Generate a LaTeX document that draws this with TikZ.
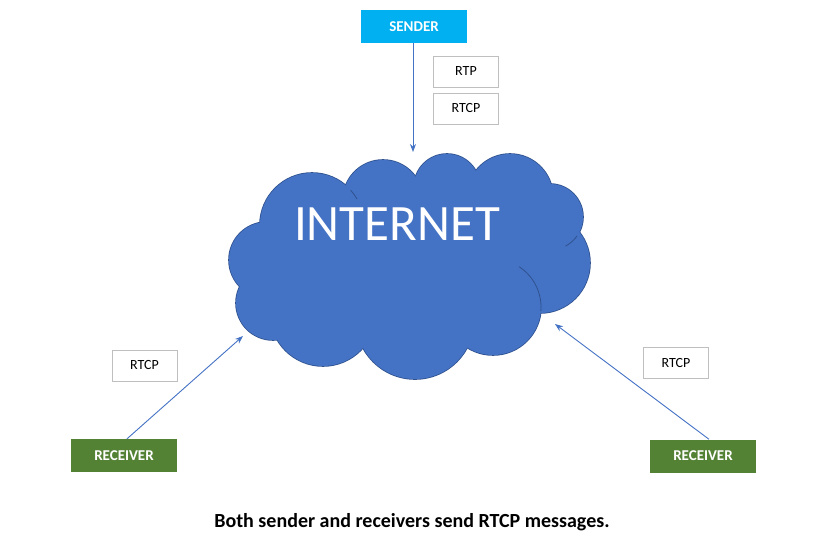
\documentclass[tikz,border=0pt]{standalone}
\usepackage{fontspec}
\setmainfont{Carlito}
\usetikzlibrary{arrows.meta}
\definecolor{cloudblue}{HTML}{4472C4}
\definecolor{cloudedge}{HTML}{2F528F}
\definecolor{sendcol}{HTML}{00B0F0}
\definecolor{recvcol}{HTML}{548235}
\definecolor{boxedge}{HTML}{BFBFBF}
\tikzset{
  hostbox/.style={minimum width=106pt, minimum height=33pt, inner sep=0pt, text=white, font=\fontsize{15}{17}\selectfont\bfseries},
  msgbox/.style={draw=boxedge, line width=0.8pt, fill=white, minimum width=65pt, minimum height=31pt, inner sep=0pt, font=\fontsize{14}{16}\selectfont},
  flow/.style={draw=cloudblue, line width=0.9pt, -{Stealth[length=8pt,width=6pt]}},
  bumpedge/.style={draw=cloudedge, line width=1.6pt},
  bumpfill/.style={fill=cloudblue},
  innerarc/.style={draw=cloudedge, line width=0.8pt}
}
\begin{document}
\begin{tikzpicture}[x=1pt,y=-1pt]
\useasboundingbox (0,0) rectangle (825,553);
% cloud
\def\bumps{312/225/52, 383/200/40, 447/187/33, 510/197/43, 550/217/33, 540/263/50, 493/307/48, 415/320/59, 323/313/53, 273/303/37, 267/260/38}
\foreach \cx/\cy/\r in \bumps
  \path[bumpedge] (\cx,\cy) circle[radius=\r];
\foreach \cx/\cy/\r in \bumps
  \path[bumpfill] (\cx,\cy) circle[radius=\r];
\fill[cloudblue] (312,225) -- (383,200) -- (447,187) -- (510,197) -- (550,217) -- (540,263) -- (493,307) -- (415,320) -- (323,313) -- (273,303) -- (267,260) -- cycle;
\draw[innerarc] (493,307) ++(-57:48) arc[start angle=-57, end angle=5, radius=48];
\draw[innerarc] (550,217) ++(35:33) arc[start angle=35, end angle=62, radius=33];
\draw[innerarc] (312,225) ++(-42:52) arc[start angle=-42, end angle=-30, radius=52];
\node[text=white, font=\fontsize{51}{57}\selectfont, inner sep=0pt] (inet) at (397,224) {INTERNET};
% nodes
\node[hostbox, fill=sendcol] (sender) at (414,26.5) {SENDER};
\node[msgbox] (rtp) at (466,71.5) {RTP};
\node[msgbox] (rtcpS) at (466,108.5) {RTCP};
\node[hostbox, fill=recvcol] (recvL) at (124,455.5) {RECEIVER};
\node[msgbox] (rtcpL) at (144.5,365.5) {RTCP};
\node[hostbox, fill=recvcol] (recvR) at (703,456) {RECEIVER};
\node[msgbox] (rtcpR) at (676,363) {RTCP};
% arrow ends
\coordinate (topIn) at (413,152);
\coordinate (leftIn) at (243,336);
\coordinate (rightIn) at (555,324);
\draw[flow] ([xshift=-1pt]sender.south) -- (topIn);
\draw[flow] ([xshift=3pt]recvL.north) -- (leftIn);
\draw[flow] ([xshift=6pt]recvR.north) -- (rightIn);
% caption
\node[font=\fontsize{20}{24}\selectfont\bfseries] (cap) at (412,522) {Both sender and receivers send RTCP messages.};
\end{tikzpicture}
\end{document}
